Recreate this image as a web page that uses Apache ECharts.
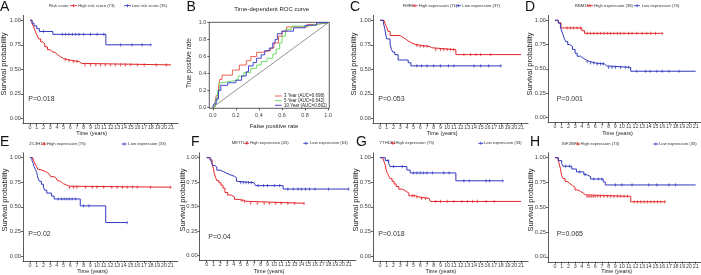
<!DOCTYPE html>
<html><head><meta charset="utf-8">
<script src="https://cdn.jsdelivr.net/npm/echarts@6/dist/echarts.min.js"></script>
<style>html,body{margin:0;padding:0;background:#fff}#c{width:701px;height:275px}</style>
</head><body><div id="c"></div>
<script>
// ---------- tick labels ----------
const xTicks = [0,1,2,3,4,5,6,7,8,9,10,11,12,13,14,15,16,17,18,19,20,21];
const yTicks = [0,0.25,0.5,0.75,1];
const rocTicks = [0,0.2,0.4,0.6,0.8,1];

// ---------- A: Risk score ----------
const aHighT = [0,0.3,0.5,0.7,0.9,1.1,1.3,1.6,1.9,2.2,2.6,3.0,3.3,3.8,4.1,4.5,5.0,5.6,6.2,7.3,7.7,21];
const aHighS = [1,0.97,0.94,0.90,0.87,0.84,0.81,0.78,0.76,0.73,0.70,0.68,0.67,0.65,0.63,0.61,0.60,0.59,0.58,0.56,0.545,0.545];
const aLowT = [0,0.3,0.6,1.0,1.4,3.4,11.3,18];
const aLowS = [1,0.971,0.943,0.914,0.886,0.857,0.75,0.75];
const aHighC = [5.3,5.8,6.5,7.0,8.2,9.0,9.8,10.5,11.2,12.0,12.7,13.5,14.2,15.0,16.0,17.0,18.8,20.3];
const aLowC = [2.0,4.8,5.3,5.8,6.3,6.8,7.3,8.0,9.0,10.0,11.0,13.5,15.2,16.7,18.0];

// ---------- C: FMR1 ----------
const cHighT = [0,0.6,0.8,1.0,1.2,1.5,3.0,3.3,3.7,4.0,4.3,4.7,5.2,6.0,7.3,7.7,11.3,21];
const cHighS = [1,0.986,0.958,0.93,0.887,0.845,0.83,0.815,0.80,0.785,0.77,0.755,0.745,0.735,0.72,0.70,0.65,0.65];
const cLowT = [0,0.5,0.7,0.9,1.0,1.5,1.7,1.9,2.2,2.7,4.2,4.6,18];
const cLowS = [1,0.973,0.919,0.838,0.81,0.757,0.703,0.676,0.649,0.595,0.567,0.535,0.535];
const cHighC = [5.5,6.0,6.5,7.0,8.3,9.0,9.5,10.0,10.5,11.0,12.5,13.5,14.3,15.0,16.5];
const cLowC = [5.5,6.2,7.0,8.0,9.0,10.2,11.0,14.0,15.0,16.2,18.0];

// ---------- D: RBM15 ----------
const dHighT = [0,0.5,0.9,4.0,4.4,16];
const dHighS = [1,0.974,0.921,0.893,0.866,0.866];
const dLowT = [0,0.5,0.8,1.0,1.2,1.4,1.6,1.9,2.2,2.6,3.0,3.3,3.8,4.2,4.7,5.2,6.0,7.4,7.7,11.3,21];
const dLowS = [1,0.97,0.93,0.89,0.85,0.81,0.78,0.75,0.73,0.70,0.66,0.63,0.61,0.59,0.575,0.56,0.55,0.53,0.515,0.475,0.475];
const dHighC = [1.8,2.3,2.8,3.3,3.8,4.8,5.3,5.8,6.3,6.8,7.3,7.8,8.3,8.8,9.3,9.8,10.3,11.0,11.5,12.2,13.0,13.7,14.3,15.0,16.0];
const dLowC = [4.8,5.3,5.8,6.3,6.8,7.2,8.0,8.5,9.0,9.8,10.5,11.0,12.2,13.5,14.2,15.2,16.0,17.0,18.5];

// ---------- E: ZC3H13 ----------
const eHighT = [0,0.4,0.6,0.8,1.0,1.2,1.5,2.3,2.6,2.9,3.1,3.6,3.9,4.1,4.4,4.7,5.0,5.5,5.9,21];
const eHighS = [1,0.987,0.96,0.933,0.907,0.88,0.86,0.847,0.833,0.82,0.807,0.793,0.78,0.765,0.75,0.735,0.72,0.71,0.70,0.70];
const eLowT = [0,0.3,0.5,0.6,0.8,1.0,1.1,1.2,1.4,1.7,2.0,2.2,2.5,3.2,3.6,7.5,11.3,14.5];
const eLowS = [1,0.97,0.94,0.91,0.88,0.85,0.82,0.79,0.76,0.73,0.70,0.67,0.64,0.61,0.58,0.51,0.34,0.34];
const eHighC = [5.9,6.5,7.0,8.3,9.3,10.0,11.0,12.2,13.0,13.8,14.5,15.3,16.0,18.0,21.0];
const eLowC = [4.2,4.7,5.1,5.5,5.9,6.3,6.8,8.0,8.8,14.5];

// ---------- F: METTL3 ----------
const fHighT = [0,0.5,0.8,1.0,1.1,1.3,1.5,1.8,2.1,2.4,2.7,3.1,3.6,4.1,4.6,5.5,5.8,14.4];
const fHighS = [1,0.978,0.933,0.889,0.845,0.80,0.767,0.745,0.72,0.69,0.645,0.62,0.60,0.575,0.565,0.555,0.535,0.535];
const fLowT = [0,0.5,0.7,0.9,1.2,1.5,2.0,2.5,3.0,3.5,4.1,4.4,4.6,7.0,7.2,11.3,21];
const fLowS = [1,0.984,0.952,0.92,0.905,0.873,0.857,0.84,0.825,0.81,0.795,0.76,0.745,0.73,0.715,0.68,0.68];
const fHighC = [5.2,5.6,6.5,7.5,8.5,9.3,10.2,11.0,12.0,13.0,14.4];
const fLowC = [5.0,5.4,5.8,6.2,6.6,7.6,8.4,9.0,10.0,10.8,12.0,12.8,13.5,14.0,14.6,15.2,16.0,18.0,21.0];

// ---------- G: YTHDF1 ----------
const gHighT = [0,0.4,0.6,0.8,0.9,1.1,1.3,1.5,1.8,2.1,2.4,2.8,3.3,3.7,4.0,4.3,5.3,5.8,7.3,7.5,21];
const gHighS = [1,0.987,0.96,0.92,0.88,0.84,0.813,0.787,0.76,0.733,0.707,0.68,0.667,0.653,0.64,0.613,0.60,0.587,0.57,0.555,0.555];
const gLowT = [0,0.8,1.3,1.5,4.0,4.5,11.3,18.3];
const gLowS = [1,0.97,0.94,0.91,0.875,0.845,0.765,0.765];
const gHighC = [4.8,5.1,5.5,6.2,6.8,8.3,9.0,10.0,11.0,12.2,13.0,13.8,14.5,15.8,17.0];
const gLowC = [1.2,2.0,3.3,5.0,5.5,6.0,6.5,7.0,7.8,9.5,10.3,12.5,13.3,15.8,16.3,18.3];

// ---------- H: IGF2BP1 ----------
const hHighT = [0,0.4,0.6,0.8,1.0,1.2,1.5,1.8,2.2,2.6,3.0,3.4,3.8,4.2,4.5,11.3,16.5];
const hHighS = [1,0.986,0.945,0.89,0.82,0.79,0.76,0.74,0.72,0.70,0.675,0.66,0.645,0.625,0.61,0.555,0.555];
const hLowT = [0,0.5,1.0,1.2,2.5,3.2,4.3,4.7,5.3,7.2,7.5,21];
const hLowS = [1,0.971,0.943,0.914,0.886,0.857,0.829,0.81,0.785,0.755,0.725,0.725];
const hHighC = [4.8,5.1,5.4,5.7,6.0,6.4,6.8,7.3,7.8,8.3,8.8,9.3,9.8,10.3,10.8,11.8,12.3,12.8,13.3,13.8,14.3,14.8,15.3,15.8,16.4];
const hLowC = [1.6,2.2,3.7,4.5,5.8,6.5,7.0,9.0,10.0,11.5,14.0,15.2,17.0,18.0];

// ---------- B: time-dependent ROC ----------
const roc3Fpr = [0,0.02,0.02,0.03,0.03,0.05,0.05,0.06,0.06,0.08,0.08,0.17,0.17,0.23,0.23,0.29,0.29,0.33,0.33,0.38,0.38,0.43,0.43,0.50,0.50,0.53,0.53,0.57,0.57,0.60,0.60,0.64,0.64,0.82,0.82,0.90,0.90,1];
const roc3Tpr = [0,0,0.05,0.05,0.14,0.14,0.24,0.24,0.33,0.33,0.38,0.38,0.44,0.44,0.50,0.50,0.55,0.55,0.60,0.60,0.65,0.65,0.67,0.67,0.70,0.70,0.76,0.76,0.84,0.84,0.90,0.90,0.95,0.95,0.98,0.98,1,1];
const roc5Fpr = [0,0.02,0.02,0.04,0.04,0.06,0.06,0.08,0.08,0.17,0.17,0.22,0.22,0.27,0.27,0.33,0.33,0.38,0.38,0.42,0.42,0.47,0.47,0.52,0.52,0.55,0.55,0.58,0.58,0.60,0.60,0.63,0.63,0.68,0.68,0.82,0.82,0.90,0.90,1];
const roc5Tpr = [0,0,0.08,0.08,0.20,0.20,0.29,0.29,0.31,0.31,0.33,0.33,0.37,0.37,0.41,0.41,0.46,0.46,0.50,0.50,0.54,0.54,0.58,0.58,0.63,0.63,0.69,0.69,0.76,0.76,0.84,0.84,0.92,0.92,0.96,0.96,0.98,0.98,1,1];
const roc10Fpr = [0,0.01,0.01,0.03,0.03,0.05,0.05,0.07,0.07,0.13,0.13,0.20,0.20,0.25,0.25,0.29,0.29,0.31,0.31,0.35,0.35,0.38,0.38,0.42,0.42,0.45,0.45,0.49,0.49,0.52,0.52,0.54,0.54,0.56,0.56,0.60,0.60,0.70,0.70,0.80,0.80,0.90,0.90,1];
const roc10Tpr = [0,0,0.04,0.04,0.10,0.10,0.20,0.20,0.26,0.26,0.29,0.29,0.32,0.32,0.37,0.37,0.42,0.42,0.49,0.49,0.53,0.53,0.58,0.58,0.62,0.62,0.67,0.67,0.70,0.70,0.76,0.76,0.80,0.80,0.87,0.87,0.90,0.90,0.94,0.94,0.97,0.97,1,1];
const rocLabels = ['3 Year (AUC=0.698)','5 Year (AUC=0.642)','10 Year (AUC=0.662)'];

// ---------- labels ----------
const groupNames = ['Risk score','FMR1','RBM15','ZC3H13','METTL3','YTHDF1','IGF2BP1'];
const highLabels = ['High risk score (73)','High expression (71)','High expression (38)','High expression (75)','High expression (45)','High expression (75)','High expression (73)'];
const lowLabels = ['Low risk score (35)','Low expression (37)','Low expression (70)','Low expression (33)','Low expression (63)','Low expression (33)','Low expression (35)'];
const pValues = ['P=0.018','P=0.053','P=0.001','P=0.02','P=0.04','P=0.018','P=0.065'];
const panelLetters = ['A','C','D','E','F','G','H'];

// ================= drawing =================
const FF = '"Liberation Sans", Arial, sans-serif';
const RED = '#E3262A', BLUE = '#3038C0', AX = '#333333', TXT = '#444444';
const kmData = [
  [aHighT,aHighS,aHighC,aLowT,aLowS,aLowC],
  [cHighT,cHighS,cHighC,cLowT,cLowS,cLowC],
  [dHighT,dHighS,dHighC,dLowT,dLowS,dLowC],
  [eHighT,eHighS,eHighC,eLowT,eLowS,eLowC],
  [fHighT,fHighS,fHighC,fLowT,fLowS,fLowC],
  [gHighT,gHighS,gHighC,gLowT,gLowS,gLowC],
  [hHighT,hHighS,hHighC,hLowT,hLowS,hLowC]
];
const kmLayout = [
  {x0:30,x21:171,y1:20.3,y0:118.3, lg:{y:5.7,t:49,r:[70,77],rt:78.3,b:[124,131],bt:131.7}, letter:[0,7], p:[28.3,99.3], ylab:[3.8,64], xlab:[91.7,133]},
  {x0:380,x21:521,y1:20.3,y0:118.3, lg:{y:5.7,t:402.7,r:[412,417.7],rt:418.7,b:[455.7,461],bt:462.3}, letter:[350,7], p:[378.3,99.3], ylab:[354.3,64], xlab:[442.2,133]},
  {x0:555,x21:695.7,y1:20.3,y0:117.3, lg:{y:5.7,t:575,r:[586.7,593.3],rt:594.3,b:[634,640],bt:641.7}, letter:[525,7], p:[556.7,99], ylab:[529.5,64], xlab:[617.5,133]},
  {x0:30,x21:170.7,y1:157.7,y0:256, lg:{y:144,t:29.3,r:[42,46.5],rt:47,b:[121.7,126.7],bt:128.3}, letter:[0,142], p:[28.3,234.3], ylab:[4.5,200], xlab:[92.5,271]},
  {x0:206.7,x21:348.7,y1:157.7,y0:255.7, lg:{y:143.3,t:231.7,r:[244.3,249],rt:250,b:[303.3,308.3],bt:310}, letter:[191,142], p:[208.3,236.7], ylab:[183.3,200], xlab:[269,271.7]},
  {x0:380,x21:521,y1:157.7,y0:256, lg:{y:143.3,t:379.3,r:[390.7,395],rt:395.5,b:[478.3,483.3],bt:484}, letter:[356,142], p:[378.3,234.3], ylab:[355.5,200], xlab:[440.8,271]},
  {x0:555,x21:695.7,y1:157.7,y0:256.8, lg:{y:144,t:561.7,r:[575.7,580],rt:580.5,b:[653.3,658.3],bt:659}, letter:[530,142], p:[556.7,234.3], ylab:[531.3,200], xlab:[616.7,271]}
];

function survAt(T,S,t){ let v=S[0]; for(let i=0;i<T.length;i++){ if(T[i]<=t) v=S[i]; } return v; }
function pairs(X,Y){ return X.map((x,i)=>[x,Y[i]]); }
const PLUS = 'path://M3.2,0 L6.8,0 L6.8,4.2 L10,4.2 L10,5.8 L6.8,5.8 L6.8,10 L3.2,10 L3.2,5.8 L0,5.8 L0,4.2 L3.2,4.2 Z';

const grids=[], xAxes=[], yAxes=[], series=[], graphics=[];
function txt(x,y,text,size,o){ o=o||{}; return {type:'text', x:x, y:y, rotation:o.rot||0, silent:true,
  style:{text:text, fontSize:size, fontFamily:FF, fill:o.fill||'#222', align:o.align||'left', verticalAlign:'middle', fontWeight:o.weight||'normal'}}; }
function seg(x1,y1,x2,y2,c,w){ return {type:'line', silent:true, shape:{x1:x1,y1:y1,x2:x2,y2:y2}, style:{stroke:c,lineWidth:w||1}}; }

kmLayout.forEach((L,k)=>{
  const u=(L.x21-L.x0)/21, v=L.y0-L.y1;
  grids.push({left:L.x0-1.05*u, top:L.y1-0.05*v, width:23.1*u, height:1.1*v, outerBoundsMode:'none', containLabel:false});
  const gi = grids.length-1;
  xAxes.push({gridIndex:gi, type:'value', min:-1.05, max:22.05,
    axisLine:{show:true, onZero:false, lineStyle:{color:AX,width:0.8}},
    axisTick:{show:true, length:2, customValues:xTicks, lineStyle:{color:AX,width:0.8}},
    axisLabel:{customValues:xTicks, fontSize:5.3, color:TXT, margin:1.8, fontFamily:FF},
    splitLine:{show:false}});
  yAxes.push({gridIndex:gi, type:'value', min:-0.05, max:1.05,
    axisLine:{show:true, onZero:false, lineStyle:{color:AX,width:0.8}},
    axisTick:{show:true, length:2, customValues:yTicks, lineStyle:{color:AX,width:0.8}},
    axisLabel:{customValues:yTicks, formatter:(val)=>val.toFixed(2), fontSize:5.8, color:TXT, margin:2, fontFamily:FF},
    splitLine:{show:false}});
  const D = kmData[k];
  [[D[0],D[1],D[2],RED],[D[3],D[4],D[5],BLUE]].forEach(([T,S,C,col])=>{
    series.push({type:'line', xAxisIndex:gi, yAxisIndex:gi, step:'end', showSymbol:false, symbol:'none',
      data:pairs(T,S), lineStyle:{color:col,width:1}, itemStyle:{color:col}, silent:true});
    series.push({type:'scatter', xAxisIndex:gi, yAxisIndex:gi, symbol:PLUS, symbolSize:[2.2,3.2],
      data:C.map(t=>[t,survAt(T,S,t)]), itemStyle:{color:col}, silent:true, z:3});
  });
  const g=L.lg;
  graphics.push(txt(g.t,g.y,groupNames[k],4.2,{fill:'#333'}));
  graphics.push(seg(g.r[0],g.y,g.r[1],g.y,RED,0.9));
  graphics.push(seg((g.r[0]+g.r[1])/2,g.y-1.5,(g.r[0]+g.r[1])/2,g.y+1.5,RED,0.8));
  graphics.push(txt(g.rt,g.y,highLabels[k],4.2,{fill:'#333'}));
  graphics.push(seg(g.b[0],g.y,g.b[1],g.y,BLUE,0.9));
  graphics.push(seg((g.b[0]+g.b[1])/2,g.y-1.5,(g.b[0]+g.b[1])/2,g.y+1.5,BLUE,0.8));
  graphics.push(txt(g.bt,g.y,lowLabels[k],4.2,{fill:'#333'}));
  graphics.push(txt(L.letter[0],L.letter[1],panelLetters[k],14,{fill:'#111'}));
  graphics.push(txt(L.p[0],L.p[1],pValues[k],7,{fill:'#333'}));
  graphics.push(txt(L.ylab[0],L.ylab[1],'Survival probability',7.5,{fill:'#222',align:'center',rot:Math.PI/2}));
  graphics.push(txt(L.xlab[0],L.xlab[1],'Time (years)',5.5,{fill:'#222',align:'center'}));
});

// ROC panel
grids.push({left:209.3, top:22.3, width:120, height:86, show:true, borderColor:AX, borderWidth:0.8, outerBoundsMode:'none', containLabel:false});
const rg = grids.length-1;
xAxes.push({gridIndex:rg, type:'value', min:-0.03, max:1.01,
  axisLine:{show:false, onZero:false}, axisTick:{show:true,length:2,customValues:rocTicks,lineStyle:{color:AX,width:0.8}},
  axisLabel:{customValues:rocTicks, formatter:(val)=>val.toFixed(1), fontSize:5.5, color:TXT, margin:4.5, fontFamily:FF}, splitLine:{show:false}});
yAxes.push({gridIndex:rg, type:'value', min:-0.012, max:1.005,
  axisLine:{show:false, onZero:false}, axisTick:{show:true,length:2,customValues:rocTicks,lineStyle:{color:AX,width:0.8}},
  axisLabel:{customValues:rocTicks, formatter:(val)=>val.toFixed(1), fontSize:5.5, color:TXT, margin:3, fontFamily:FF}, splitLine:{show:false}});
series.push({type:'line', xAxisIndex:rg, yAxisIndex:rg, data:[[-0.03,-0.03],[1.01,1.01]], showSymbol:false, symbol:'none', lineStyle:{color:'#666',width:0.7}, silent:true});
const rocCols = ['#E8553F','#62D85A','#3434CC'];
[[roc3Fpr,roc3Tpr],[roc5Fpr,roc5Tpr],[roc10Fpr,roc10Tpr]].forEach(([X,Y],i)=>{
  series.push({type:'line', xAxisIndex:rg, yAxisIndex:rg, data:pairs(X,Y), showSymbol:false, symbol:'none', lineStyle:{color:rocCols[i],width:0.9}, silent:true, z:3+i});
});
[96,100.7,105.3].forEach((y,i)=>{
  graphics.push(seg(275,y,281.7,y,rocCols[i],0.9));
  graphics.push(txt(284,y,rocLabels[i],4.5,{fill:'#222'}));
});
graphics.push(txt(186.5,7,'B',14,{fill:'#111'}));
graphics.push(txt(271.7,9,'Time-dependent ROC curve',6,{fill:'#222',align:'center'}));
graphics.push(txt(274,126.7,'False positive rate',6,{fill:'#222',align:'center'}));
graphics.push(txt(189,63,'True positive rate',6.5,{fill:'#222',align:'center',rot:Math.PI/2}));

const chart = echarts.init(document.getElementById('c'), null, {renderer:'canvas'});
chart.setOption({animation:false, backgroundColor:'#ffffff', grid:grids, xAxis:xAxes, yAxis:yAxes, series:series, graphic:graphics});
</script></body></html>
